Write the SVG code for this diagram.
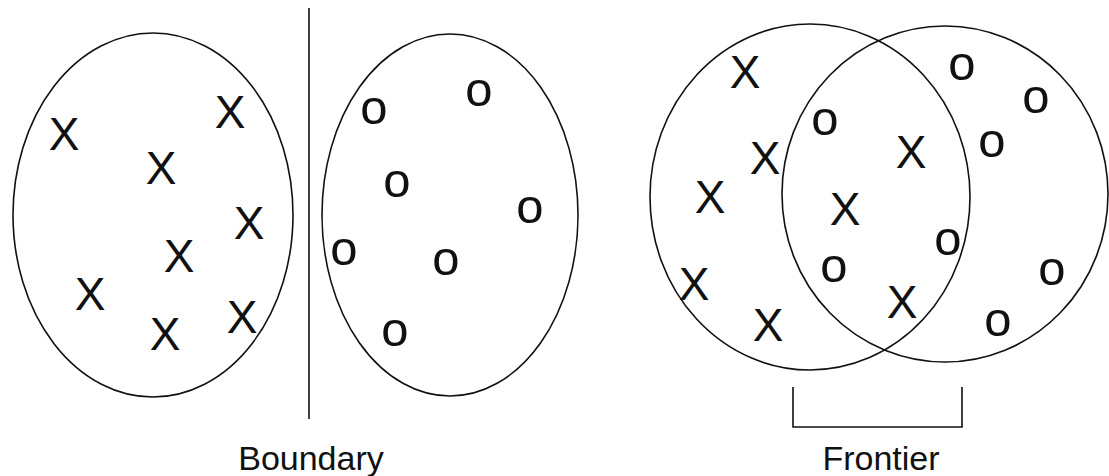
<svg xmlns="http://www.w3.org/2000/svg" width="1109" height="476" viewBox="0 0 1109 476">
<style>
.shape{fill:none;stroke:#111;stroke-width:1.6}
.pt{font-family:"Liberation Sans",Arial,sans-serif;font-size:46px;fill:#111;text-anchor:middle}
.po{font-family:"Liberation Sans",Arial,sans-serif;font-size:49px;fill:#111;text-anchor:middle}
.lbl{font-family:"Liberation Sans",Arial,sans-serif;font-size:34px;fill:#111;text-anchor:middle}
</style>
<rect width="1109" height="476" fill="#fff"/>
<g id="cluster-x">
<ellipse class="shape" cx="153" cy="215" rx="140" ry="182"/>
<text class="pt" x="64" y="150">X</text>
<text class="pt" x="230" y="128">X</text>
<text class="pt" x="161" y="184">X</text>
<text class="pt" x="249" y="239">X</text>
<text class="pt" x="179" y="272">X</text>
<text class="pt" x="90" y="310">X</text>
<text class="pt" x="165" y="350">X</text>
<text class="pt" x="242" y="333">X</text>
</g>
<g id="cluster-o">
<ellipse class="shape" cx="450" cy="215" rx="128" ry="181"/>
<text class="po" x="374" y="124">o</text>
<text class="po" x="479" y="106">o</text>
<text class="po" x="397" y="197">o</text>
<text class="po" x="530" y="223">o</text>
<text class="po" x="344" y="265">o</text>
<text class="po" x="446" y="275">o</text>
<text class="po" x="395" y="346">o</text>
</g>
<g id="boundary">
<line class="shape" x1="309" y1="8" x2="309" y2="419"/>
<text class="lbl" x="311" y="470">Boundary</text>
</g>
<g id="venn-x">
<ellipse class="shape" cx="810" cy="197" rx="160" ry="173"/>
<text class="pt" x="745" y="88">X</text>
<text class="pt" x="765" y="174">X</text>
<text class="pt" x="710" y="213">X</text>
<text class="pt" x="694" y="300">X</text>
<text class="pt" x="768" y="341">X</text>
<text class="pt" x="911" y="168">X</text>
<text class="pt" x="845" y="225">X</text>
<text class="pt" x="902" y="318">X</text>
</g>
<g id="venn-o">
<ellipse class="shape" cx="945" cy="194" rx="163" ry="168"/>
<text class="po" x="825" y="135">o</text>
<text class="po" x="962" y="80">o</text>
<text class="po" x="1036" y="113">o</text>
<text class="po" x="992" y="157">o</text>
<text class="po" x="948" y="255">o</text>
<text class="po" x="834" y="282">o</text>
<text class="po" x="1052" y="285">o</text>
<text class="po" x="998" y="336">o</text>
</g>
<g id="frontier">
<polyline class="shape" points="793,387 793,427 962,427 962,387"/>
<text class="lbl" x="881" y="470">Frontier</text>
</g>
</svg>
